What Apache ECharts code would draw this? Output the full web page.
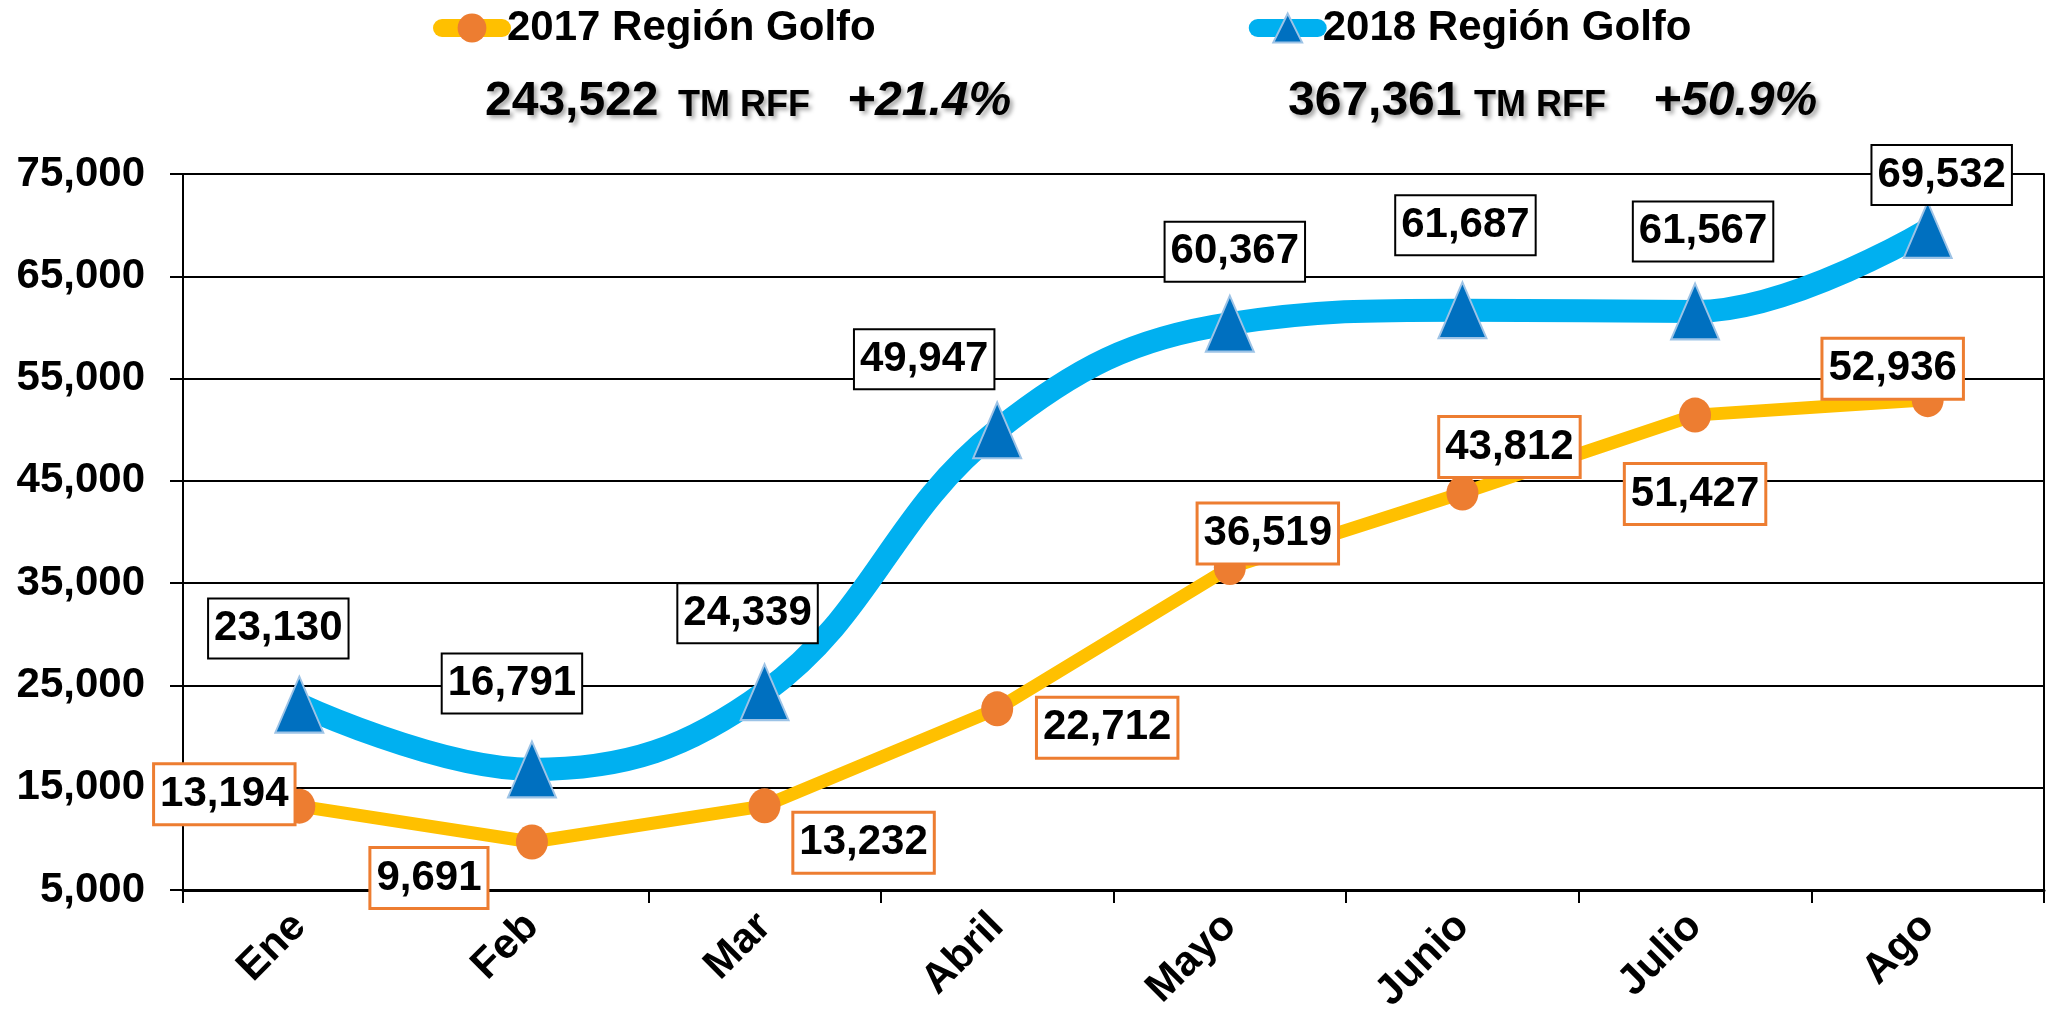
<!DOCTYPE html>
<html>
<head>
<meta charset="utf-8">
<script src="https://cdn.jsdelivr.net/npm/echarts@6/dist/echarts.min.js"></script>
<style>
html,body{margin:0;padding:0;background:#fff;}
#c{width:2049px;height:1019px;}
</style>
</head>
<body>
<div id="c"></div>
<script>
// ---- data ----
var months = ['Ene', 'Feb', 'Mar', 'Abril', 'Mayo', 'Junio', 'Julio', 'Ago'];
var series2017Name = '2017 Región Golfo';
var series2018Name = '2018 Región Golfo';
var values2017 = [13194, 9691, 13232, 22712, 36519, 43812, 51427, 52936];
var values2018 = [23130, 16791, 24339, 49947, 60367, 61687, 61567, 69532];
var yTicks = { min: 5000, max: 75000, interval: 10000 };
var total2017 = '243,522', growth2017 = '+21.4%';
var total2018 = '367,361', growth2018 = '+50.9%';
var unitText = 'TM RFF';

// ---- layout (label offsets in px, relative to each point) ----
var offsets2017 = [[-75, -12], [-103, 36], [99, 37], [110, 19], [38, -34], [47, -46], [0, 79], [-35, -31]];
var offsets2018 = [[-21, -76], [-20, -86], [-17, -79], [-73, -71], [5, -72], [3, -85], [8, -80], [14, -55]];

var FONT = '"Liberation Sans", Arial, sans-serif';

function fmt(v) { return v.toLocaleString('en-US'); }

function buildData(values, offsets) {
  return values.map(function (v, i) {
    return { value: v, label: { offset: offsets[i] } };
  });
}

var labelBase = {
  show: true,
  position: 'inside',
  formatter: function (p) { return fmt(p.value); },
  fontFamily: FONT,
  fontWeight: 'bold',
  fontSize: 42,
  color: '#000',
  backgroundColor: '#fff',
  padding: [6, 5, 4, 5],
  lineHeight: 48
};

var shadow = { textShadowColor: 'rgba(0,0,0,0.35)', textShadowOffsetX: 3, textShadowOffsetY: 3, textShadowBlur: 4 };
function gtext(left, top, text, font) {
  return { type: 'text', left: left, top: top, style: Object.assign({ text: text, font: font, fill: '#000' }, shadow) };
}

var chart = echarts.init(document.getElementById('c'));
chart.setOption({
  animation: false,
  backgroundColor: '#fff',
  textStyle: { fontFamily: FONT },
  legend: {
    left: 428,
    top: 2,
    itemWidth: 60,
    itemHeight: 36,
    itemGap: 373,
    textStyle: { fontFamily: FONT, fontWeight: 'bold', fontSize: 42, color: '#000' },
    data: [
      { name: series2017Name, lineStyle: { width: 18, cap: 'round' } },
      { name: series2018Name, lineStyle: { width: 18, cap: 'round' } }
    ]
  },
  graphic: [
    gtext(485, 78, total2017, 'bold 48px ' + FONT),
    gtext(678, 88, unitText, 'bold 36px ' + FONT),
    gtext(847, 78, growth2017, 'italic bold 48px ' + FONT),
    gtext(1288, 78, total2018, 'bold 48px ' + FONT),
    gtext(1474, 88, unitText, 'bold 36px ' + FONT),
    gtext(1653, 78, growth2018, 'italic bold 48px ' + FONT)
  ],
  grid: { left: 183, right: 5, top: 174, bottom: 129, containLabel: false },
  xAxis: {
    type: 'category',
    data: months,
    boundaryGap: true,
    axisLine: { show: true, lineStyle: { color: '#000', width: 3 } },
    axisTick: { show: true, interval: 0, length: 13, lineStyle: { color: '#000', width: 2 } },
    axisLabel: { interval: 0, rotate: 45, margin: 30, fontFamily: FONT, fontWeight: 'bold', fontSize: 42, color: '#000' },
    splitLine: { show: false }
  },
  yAxis: [{
    type: 'value',
    min: yTicks.min,
    max: yTicks.max,
    interval: yTicks.interval,
    axisLine: { show: true, lineStyle: { color: '#000', width: 2 } },
    axisTick: { show: true, length: 13, lineStyle: { color: '#000', width: 2 } },
    axisLabel: { margin: 38, fontFamily: FONT, fontWeight: 'bold', fontSize: 42, color: '#000', formatter: function (v) { return fmt(v); } },
    splitLine: { show: true, lineStyle: { color: '#000', width: 2 } }
  }, {
    type: 'value',
    position: 'right',
    min: yTicks.min,
    max: yTicks.max,
    interval: yTicks.interval,
    axisLine: { show: true, lineStyle: { color: '#000', width: 2 } },
    axisTick: { show: false },
    axisLabel: { show: false },
    splitLine: { show: false }
  }],
  series: [
    {
      name: series2017Name,
      type: 'line',
      data: buildData(values2017, offsets2017),
      smooth: false,
      symbol: 'circle',
      symbolSize: [32, 35],
      lineStyle: { color: '#FFC000', width: 13, cap: 'round', join: 'round' },
      itemStyle: { color: '#ED7D31', borderWidth: 0 },
      label: Object.assign({}, labelBase, { borderColor: '#ED7D31', borderWidth: 3 }),
      z: 3
    },
    {
      name: series2018Name,
      type: 'line',
      data: buildData(values2018, offsets2018),
      smooth: 0.4,
      symbol: 'triangle',
      symbolSize: [48, 56],
      lineStyle: { color: '#00B0F0', width: 23, cap: 'round', join: 'round' },
      itemStyle: { color: '#0070C0', borderColor: '#9DC3E6', borderWidth: 2 },
      label: Object.assign({}, labelBase, { borderColor: '#000', borderWidth: 2 }),
      z: 4
    }
  ]
});
</script>
</body>
</html>
